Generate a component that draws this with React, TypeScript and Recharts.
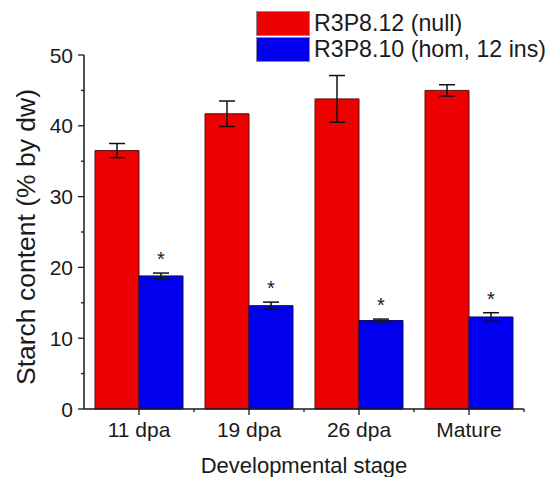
import { BarChart, Bar, XAxis, YAxis, ErrorBar, LabelList } from "recharts";

const stages = ["11 dpa", "19 dpa", "26 dpa", "Mature"];
const nullMean = [36.5, 41.7, 43.8, 45.0];
const nullErr = [1.0, 1.8, 3.3, 0.8];
const homMean = [18.8, 14.6, 12.5, 13.0];
const homErr = [0.4, 0.5, 0.2, 0.6];
const signif = ["*", "*", "*", "*"];
const yTicks = [0, 5, 10, 15, 20, 25, 30, 35, 40, 45, 50];
const seriesNames = ["R3P8.12 (null)", "R3P8.10 (hom, 12 ins)"];

const RED = "#ec0000";
const BLUE = "#0000ee";
const FONT = "'Liberation Sans', Arial, sans-serif";
const INK = "#1a1a1a";
const TICK = 6;
const MARGIN = 5;

const data = stages.map((s, i) => ({
    stage: s,
    nullMean: nullMean[i],
    nullErr: nullErr[i],
    homMean: homMean[i],
    homErr: homErr[i],
    sig: signif[i],
}));

function YTick(props: any) {
    const { x, y, payload } = props;
    const axisX = x + MARGIN + TICK;
    const major = payload.value % 10 === 0;
    return (
        <g>
            <line x1={axisX - (major ? TICK : 3)} x2={axisX} y1={y} y2={y} stroke={INK} strokeWidth={1.3} />
            {major && (
                <text x={x} y={y} dy={7.5} textAnchor="end" fontSize={21} fill={INK} fontFamily={FONT}>
                    {payload.value}
                </text>
            )}
        </g>
    );
}

function XTick(props: any) {
    const { x, y, payload, width, visibleTicksCount } = props;
    const axisY = y - MARGIN - TICK;
    const band = width / visibleTicksCount;
    return (
        <g>
            <line x1={x} x2={x} y1={axisY} y2={axisY + TICK} stroke={INK} strokeWidth={1.3} />
            <line x1={x + band / 2} x2={x + band / 2} y1={axisY} y2={axisY + 3} stroke={INK} strokeWidth={1.3} />
            <text x={x} y={y} dy={17} textAnchor="middle" fontSize={21} fill={INK} fontFamily={FONT}>
                {payload.value}
            </text>
        </g>
    );
}

function Star(props: any) {
    const { x, y, width, height, value, index } = props;
    const pxPerUnit = height / homMean[index];
    const top = y - homErr[index] * pxPerUnit;
    return (
        <text x={x + width / 2} y={top - 7} textAnchor="middle" fontSize={20} fill={INK} fontFamily={FONT}>
            {value}
        </text>
    );
}

function LegendBox() {
    const colors = [RED, BLUE];
    return (
        <div style={{ position: "absolute", left: 256, top: 11, fontFamily: FONT }}>
            {seriesNames.map((name, i) => (
                <div key={name} style={{ display: "flex", alignItems: "center", height: 25.5 }}>
                    <div style={{ width: 52, height: 23, background: colors[i], border: "1px solid #8a8aa0", marginRight: 4 }} />
                    <span style={{ fontSize: 23.2, color: INK, whiteSpace: "nowrap" }}>{name}</span>
                </div>
            ))}
        </div>
    );
}

export default function App() {
    return (
        <div style={{ position: "absolute", left: 0, top: 0, width: 551, height: 477, background: "#fff" }}>
            <BarChart
                width={551}
                height={477}
                data={data}
                margin={{ top: 55, right: 27, bottom: 0, left: 0 }}
                barCategoryGap="10%"
                barGap={0}
            >
                <XAxis
                    dataKey="stage"
                    height={68}
                    interval={0}
                    tickLine={false}
                    tickSize={TICK}
                    tickMargin={MARGIN}
                    tick={<XTick />}
                    axisLine={{ stroke: INK, strokeWidth: 1.5 }}
                    label={{ value: "Developmental stage", position: "insideBottom", offset: 4, fontSize: 22, fill: INK, fontFamily: FONT }}
                />
                <YAxis
                    width={84}
                    domain={[0, 50]}
                    ticks={yTicks}
                    interval={0}
                    tickLine={false}
                    tickSize={TICK}
                    tickMargin={MARGIN}
                    tick={<YTick />}
                    axisLine={{ stroke: INK, strokeWidth: 1.5 }}
                    label={({ viewBox }: any) => (
                        <text
                            x={viewBox.x + 28}
                            y={viewBox.y + viewBox.height / 2 + 5}
                            transform={`rotate(-90, ${viewBox.x + 28}, ${viewBox.y + viewBox.height / 2 + 5})`}
                            textAnchor="middle"
                            dominantBaseline="middle"
                            fontSize={26.5}
                            fill={INK}
                            fontFamily={FONT}
                        >
                            Starch content (% by dw)
                        </text>
                    )}
                />
                <Bar dataKey="nullMean" name={seriesNames[0]} fill={RED} stroke="#5a1010" strokeWidth={1} isAnimationActive={false}>
                    <ErrorBar dataKey="nullErr" width={8} stroke="#111" strokeWidth={1.5} />
                </Bar>
                <Bar dataKey="homMean" name={seriesNames[1]} fill={BLUE} stroke="#10105a" strokeWidth={1} isAnimationActive={false}>
                    <ErrorBar dataKey="homErr" width={8} stroke="#111" strokeWidth={1.5} />
                    <LabelList dataKey="sig" content={<Star />} />
                </Bar>
            </BarChart>
            <LegendBox />
        </div>
    );
}
